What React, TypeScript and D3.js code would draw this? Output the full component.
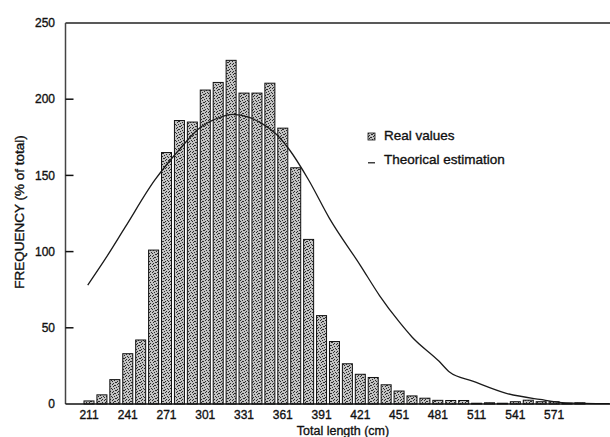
import React from "react";
import * as d3 from "d3";

const binStarts = [211, 221, 231, 241, 251, 261, 271, 281, 291, 301, 311, 321, 331, 341, 351, 361, 371, 381, 391, 401, 411, 421, 431, 441, 451, 461, 471, 481, 491, 501, 511, 521, 531, 541, 551, 561, 571, 581, 591];
const realValues = [2, 6, 16, 33, 42, 101, 165, 186, 185, 206, 211, 225.5, 204, 204, 210.5, 181, 155, 108, 58, 41, 26.4, 19.5, 17.4, 12.6, 8.5, 5.3, 3.8, 2.4, 2.3, 2.3, 0.5, 0.8, 0.5, 1.5, 2.5, 1.5, 1.5, 0.5, 0.8];

const curveX = [210, 225, 239, 262, 271, 282, 295, 312, 322, 335, 345, 356, 366, 381, 397, 421, 436, 451, 461, 482, 490, 508, 534, 560, 580, 614];
const curveY = [78, 97, 116, 147, 157, 168, 180, 188, 190, 188, 184, 177, 167, 147, 122, 91, 71, 54, 44, 28, 21, 15, 7, 3, 0.8, 0.2];

const xTicks = [211, 241, 271, 301, 331, 361, 391, 421, 451, 481, 511, 541, 571];
const yTicks = [0, 50, 100, 150, 200, 250];

const legendLabels = ["Real values", "Theorical estimation"];
const xTitle = "Total length (cm)";
const yTitle = "FREQUENCY (% of total)";

const W = 610;
const H = 437;

export default function App() {
  const x = d3.scaleLinear().domain([211, 571]).range([89, 554.1]);
  const y = d3.scaleLinear().domain([0, 250]).range([404, 23]);
  const left = 65.5;
  const right = 610;
  const barW = 10;

  const pts: [number, number][] = curveX.map((cx, i) => [cx, curveY[i]]);
  const line = d3
    .line<[number, number]>()
    .x((d) => x(d[0]))
    .y((d) => y(d[1]))
    .curve(d3.curveMonotoneX);

  const dots: [number, number][] = [
    [0, 0], [3, 1], [5, 0], [1, 2], [4, 3], [2, 4], [0, 5], [5, 5], [3, 6], [1, 7], [6, 2], [6, 7], [2, 1], [7, 4], [4, 6],
  ];

  const font = "'Liberation Sans', Arial, sans-serif";
  const tx = { fontFamily: font, fill: "#111", stroke: "#111", strokeWidth: 0.35 };

  return (
    <svg width={W} height={H} style={{ position: "absolute", left: 0, top: 0, background: "#fff" }}>
      <defs>
        <pattern id="halftone" width={8} height={8} patternUnits="userSpaceOnUse">
          <rect width={8} height={8} fill="#c2c2c2" />
          {dots.map((d, i) => (
            <rect key={i} x={d[0]} y={d[1]} width={1} height={1} fill="#2a2a2a" />
          ))}
        </pattern>
      </defs>
      <rect x={0} y={0} width={W} height={H} fill="#fff" />

      {/* bars */}
      {binStarts.map((b, i) => (
        <rect
          key={b}
          x={x(b) - barW / 2}
          y={y(realValues[i])}
          width={barW}
          height={y(0) - y(realValues[i])}
          fill="url(#halftone)"
          stroke="#111"
          strokeWidth={1}
        />
      ))}

      {/* curve */}
      <path d={line(pts) || ""} fill="none" stroke="#1a1a1a" strokeWidth={1.3} />

      {/* frame */}
      <line x1={left} x2={right} y1={y(250)} y2={y(250)} stroke="#222" strokeWidth={1.5} />
      <line x1={left} x2={left} y1={y(250)} y2={y(0)} stroke="#444" strokeWidth={1.5} />
      <line x1={left} x2={right} y1={y(0)} y2={y(0)} stroke="#111" strokeWidth={1.6} />

      {/* y ticks */}
      {yTicks.map((t) => (
        <g key={t}>
          {t > 0 && t < 250 && (
            <line x1={left} x2={left + 8} y1={y(t)} y2={y(t)} stroke="#111" strokeWidth={1.5} />
          )}
          <text x={55} y={y(t)} dy="0.35em" textAnchor="end" fontSize={12} {...tx}>
            {t}
          </text>
        </g>
      ))}

      {/* x tick labels */}
      {xTicks.map((t) => (
        <text key={t} x={x(t)} y={419} textAnchor="middle" fontSize={12} {...tx}>
          {t}
        </text>
      ))}

      <text x={343} y={435} textAnchor="middle" fontSize={12.5} {...tx}>
        {xTitle}
      </text>
      <text transform={`translate(24,212) rotate(-90)`} textAnchor="middle" fontSize={13.5} {...tx}>
        {yTitle}
      </text>

      {/* legend */}
      <rect x={368} y={133} width={7} height={7} fill="url(#halftone)" stroke="#111" strokeWidth={0.8} />
      <text x={384} y={140} fontSize={13.5} {...tx}>
        {legendLabels[0]}
      </text>
      <line x1={368} x2={375} y1={162.8} y2={162.8} stroke="#111" strokeWidth={1.2} />
      <text x={384} y={163.5} fontSize={13.5} {...tx}>
        {legendLabels[1]}
      </text>
    </svg>
  );
}
